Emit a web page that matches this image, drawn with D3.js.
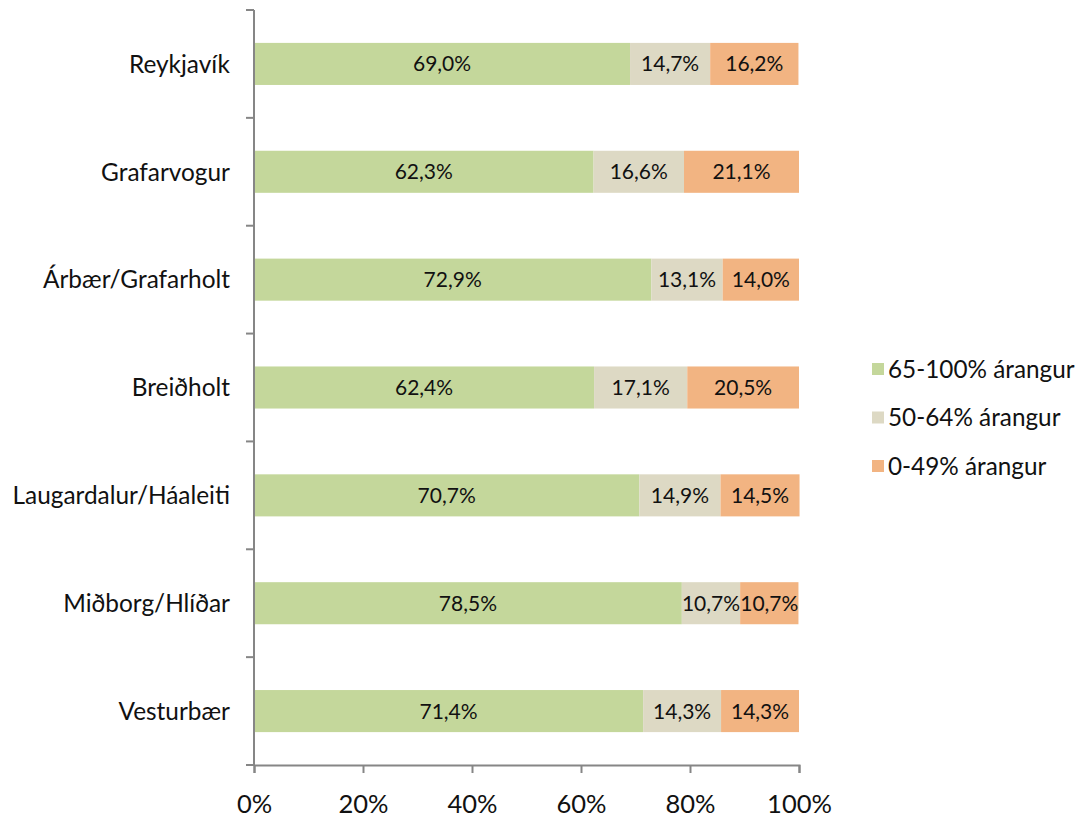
<!DOCTYPE html>
<html>
<head>
<meta charset="utf-8">
<script src="https://cdn.jsdelivr.net/npm/d3@7"></script>
<style>
  body { margin: 0; background: #fff; }
  svg { font-family: Lato, "Open Sans", sans-serif; }
</style>
</head>
<body>
<div id="container"></div>
<script>
const categories = ["Reykjavík", "Grafarvogur", "Árbær/Grafarholt", "Breiðholt", "Laugardalur/Háaleiti", "Miðborg/Hlíðar", "Vesturbær"];
const seriesNames = ["65-100% árangur", "50-64% árangur", "0-49% árangur"];
const high = [69.0, 62.3, 72.9, 62.4, 70.7, 78.5, 71.4];
const mid = [14.7, 16.6, 13.1, 17.1, 14.9, 10.7, 14.3];
const low = [16.2, 21.1, 14.0, 20.5, 14.5, 10.7, 14.3];
const xTicks = [0, 20, 40, 60, 80, 100];
const colors = ["#C4D79B", "#DDD9C4", "#F2B482"];

const W = 1084, H = 821;
const margin = { top: 10, right: 285, bottom: 56, left: 254 };
const width = 799 - margin.left;
const height = 765 - margin.top;

const svg = d3.select("#container").append("svg")
  .attr("width", W)
  .attr("height", H);

const g = svg.append("g")
  .attr("transform", `translate(${margin.left},${margin.top})`);

const x = d3.scaleLinear().domain([0, 100]).range([0, width]);
const y = d3.scaleBand().domain(categories).range([0, height])
  .paddingInner(0.61).paddingOuter(0.305);

const series = [high, mid, low];
const rows = categories.map((c, i) => {
  let acc = 0;
  return series.map((s, k) => {
    const r = { cat: c, k: k, v: s[i], x0: acc, x1: acc + s[i] };
    acc += s[i];
    return r;
  });
});

const fmt = v => v.toFixed(1).replace(".", ",") + "%";

// bars
const segs = g.selectAll("g.row")
  .data(rows)
  .enter().append("g")
  .attr("class", "row")
  .selectAll("g.seg")
  .data(d => d)
  .enter().append("g")
  .attr("class", "seg");

segs.append("rect")
  .attr("x", d => x(d.x0))
  .attr("y", d => y(d.cat))
  .attr("width", d => x(d.x1) - x(d.x0))
  .attr("height", y.bandwidth())
  .attr("fill", d => colors[d.k]);

segs.append("text")
  .attr("x", d => (x(d.x0) + x(d.x1)) / 2)
  .attr("y", d => y(d.cat) + y.bandwidth() / 2)
  .attr("dy", "0.36em")
  .attr("text-anchor", "middle")
  .attr("font-size", 21)
  .attr("fill", "#111")
  .text(d => fmt(d.v));

// y axis: line with ticks at band boundaries
const step = y.step();
const yTickPos = d3.range(categories.length + 1).map(i => i * step);
const yAxis = g.append("g").attr("class", "y-axis");
yAxis.append("line")
  .attr("x1", 0).attr("x2", 0)
  .attr("y1", 0).attr("y2", height)
  .attr("stroke", "#868686").attr("stroke-width", 2);
yAxis.selectAll("line.tick")
  .data(yTickPos)
  .enter().append("line")
  .attr("class", "tick")
  .attr("x1", -8).attr("x2", 0)
  .attr("y1", d => d).attr("y2", d => d)
  .attr("stroke", "#868686").attr("stroke-width", 2);
yAxis.selectAll("text")
  .data(categories)
  .enter().append("text")
  .attr("x", -24)
  .attr("y", d => y(d) + y.bandwidth() / 2)
  .attr("dy", "0.36em")
  .attr("text-anchor", "end")
  .attr("font-size", 24.4)
  .attr("fill", "#111")
  .text(d => d);

// x axis
const xAxis = g.append("g")
  .attr("class", "x-axis")
  .attr("transform", `translate(0,${height})`)
  .call(d3.axisBottom(x).tickValues(xTicks).tickSize(8).tickPadding(22)
    .tickFormat(d => d + "%"));
xAxis.select(".domain").attr("stroke", "#868686").attr("stroke-width", 2);
xAxis.selectAll(".tick line").attr("stroke", "#868686").attr("stroke-width", 2);
xAxis.selectAll(".tick text")
  .attr("font-size", 25.5)
  .attr("font-family", "Lato, sans-serif")
  .attr("fill", "#111");

// legend
const legend = svg.append("g")
  .attr("transform", "translate(872,369)");
const li = legend.selectAll("g")
  .data(seriesNames)
  .enter().append("g")
  .attr("transform", (d, i) => `translate(0,${i * 48.5})`);
li.append("rect")
  .attr("x", 0).attr("y", -6)
  .attr("width", 12).attr("height", 12)
  .attr("fill", (d, i) => colors[i]);
li.append("text")
  .attr("x", 16)
  .attr("y", 0)
  .attr("dy", "0.36em")
  .attr("font-size", 24.3)
  .attr("fill", "#111")
  .text(d => d);
</script>
</body>
</html>
